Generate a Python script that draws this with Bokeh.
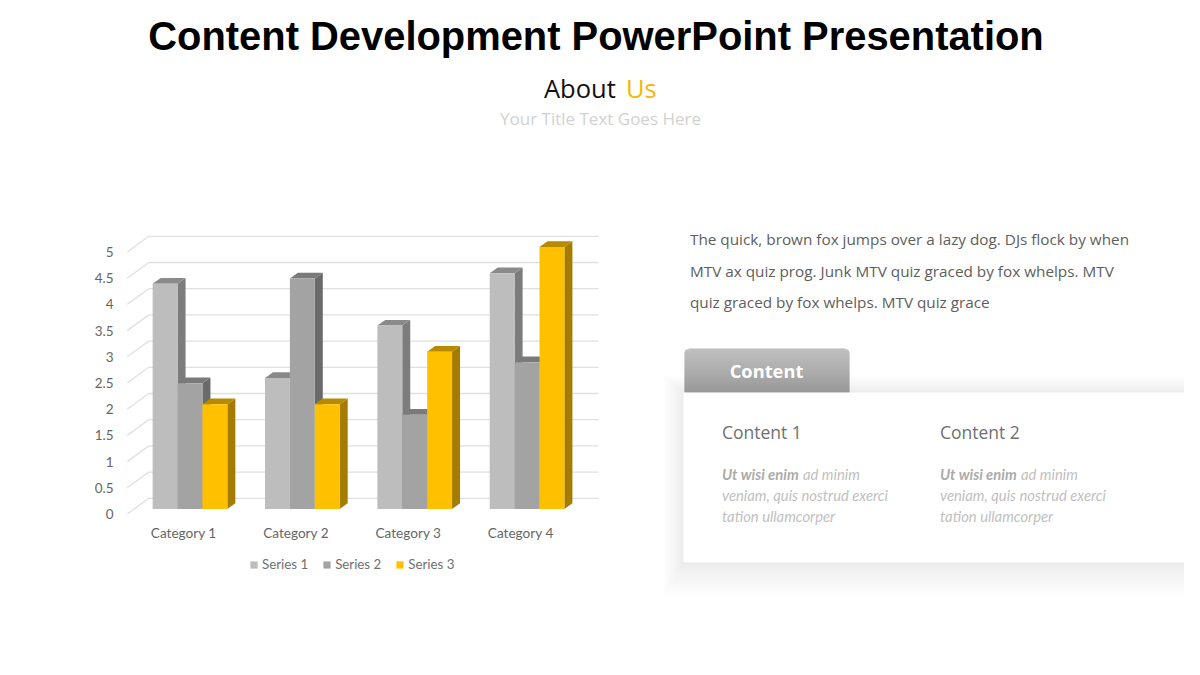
from bokeh.plotting import figure
from bokeh.models import Range1d, LinearAxis, FixedTicker, Legend, LegendItem
from bokeh.core.properties import value
from bokeh.embed import file_html
from bokeh.resources import INLINE

categories = ["Category 1", "Category 2", "Category 3", "Category 4"]
series_names = ["Series 1", "Series 2", "Series 3"]
series_1 = [4.3, 2.5, 3.5, 4.5]
series_2 = [2.4, 4.4, 1.8, 2.8]
series_3 = [2.0, 2.0, 3.0, 5.0]
ticks = [0, 0.5, 1, 1.5, 2, 2.5, 3, 3.5, 4, 4.5, 5]
tick_labels = ["0", "0.5", "1", "1.5", "2", "2.5", "3", "3.5", "4", "4.5", "5"]

front = ["#BDBDBD", "#A3A3A3", "#FFC000"]
side = ["#7C7C7C", "#6A6A6A", "#A67C00"]
top = ["#8A8A8A", "#7A7A7A", "#B88A00"]

W, H = 1184, 659
PX_X, PX_Y = 112.35, 52.4         # pixels per category / per value
X0, Y0 = 183.2, 513.5             # picture pixel of category 0 label / value 0 on the front wall
dx = lambda px: px / PX_X
dy = lambda px: px / PX_Y

p = figure(width=W, height=H, output_backend="svg", toolbar_location=None,
           x_range=Range1d((0 - X0) / PX_X, (W - X0) / PX_X),
           y_range=Range1d((Y0 - H) / PX_Y, Y0 / PX_Y),
           x_axis_location=None, y_axis_location=None,
           min_border=0, outline_line_color=None, background_fill_color="white")
p.grid.visible = False
p.extra_x_ranges["px"] = Range1d(0, W)
p.extra_y_ranges["px"] = Range1d(H, 0)
PX = dict(x_range_name="px", y_range_name="px")


def txt(x, y, s, size, color, font="Open Sans", style="normal", align="left"):
    p.text([x], [y], text=[s], text_font=value(font), text_font_size=f"{size}px",
           text_font_style=style, text_color=color, text_align=align,
           text_baseline="middle", **PX)


# ---- slide heading
txt(595.5, 35.5, "Content Development PowerPoint Presentation", 39.9, "#000000", "Liberation Sans", "bold", "center")
txt(543.5, 87.5, "About", 25.5, "#111111")
txt(625.5, 87.5, "Us", 25.5, "#F5B800")
txt(600, 118, "Your Title Text Goes Here", 17, "#D2D2D2", align="center")

# ---- body text
body = ["The quick, brown fox jumps over a lazy dog. DJs flock by when",
        "MTV ax quiz prog. Junk MTV quiz graced by fox whelps. MTV",
        "quiz graced by fox whelps. MTV quiz grace"]
for s, y in zip(body, [238.5, 270.5, 301.5]):
    txt(689.5, y, s, 15.3, "#5E5E5E")

# ---- card shadow, tab, card
for i in range(1, 21):
    e = (i / 20) ** 1.3
    p.quad(left=[683 - e * 22], right=[1230], top=[392 - e * 18], bottom=[562 + e * 36],
           fill_color="#000000", fill_alpha=0.004, line_color=None, **PX)
n = 44
for i in range(n):
    g = int(184 - (184 - 140) * i / (n - 1))
    inset = 4 - (16 - (4 - i) ** 2) ** 0.5 if i < 4 else 0
    p.quad(left=[684 + inset], right=[849 - inset], top=[348 + i], bottom=[349.2 + i],
           fill_color=f"#{g:02x}{g:02x}{g:02x}", line_color=None, **PX)
p.quad(left=[683], right=[1230], top=[392], bottom=[562], fill_color="#FFFFFF", line_color=None, **PX)
txt(766, 370, "Content", 18.3, "#FFFFFF", style="bold", align="center")
lines = ["veniam, quis nostrud exerci", "tation ullamcorper"]
for cx, title in zip([721.5, 939.5], ["Content 1", "Content 2"]):
    txt(cx, 431.5, title, 17.5, "#707070")
    txt(cx, 473.5, "Ut wisi enim", 14.8, "#ABABAB", "Lato", "bold italic")
    txt(cx + 81, 473.5, "ad minim", 14.8, "#BFBFBF", "Lato", "italic")
    txt(cx, 494.5, lines[0], 14.8, "#BFBFBF", "Lato", "italic")
    txt(cx, 515.5, lines[1], 14.8, "#BFBFBF", "Lato", "italic")

# ---- chart: back wall
WALL_DX, WALL_DY = dx(21.6), dy(15.7)
left_x = dx(126.7 - X0)
right_x = dx(598 - X0)
p.multi_line([[left_x + WALL_DX, right_x] for _ in ticks],
             [[t + WALL_DY, t + WALL_DY] for t in ticks], line_color="#E0E0E0", line_width=1.3)
p.multi_line([[left_x, left_x + WALL_DX] for _ in ticks],
             [[t, t + WALL_DY] for t in ticks], line_color="#E0E0E0", line_width=1.3)

# ---- chart: 3-D bars
BAR_W = dx(24.9)
DEPTH_X, DEPTH_Y = dx(8), dy(5.7)
BASE = dy(5)
CAT_SHIFT = dx(6.3)
renderers = []
for s, vals in enumerate([series_1, series_2, series_3]):
    for c, v in enumerate(vals):
        xl = c + CAT_SHIFT + (s - 1.5) * BAR_W
        xr = xl + BAR_W
        yt, yb = v + BASE, BASE
        p.patch([xr, xr + DEPTH_X, xr + DEPTH_X, xr],
                [yb, yb + DEPTH_Y, yt + DEPTH_Y, yt], fill_color=side[s], line_color=None)
        p.patch([xl, xl + DEPTH_X, xr + DEPTH_X, xr],
                [yt, yt + DEPTH_Y, yt + DEPTH_Y, yt], fill_color=top[s], line_color=None)
        r = p.vbar(x=[xl + BAR_W / 2], width=BAR_W, top=[yt], bottom=[yb], fill_color=front[s], line_color=None)
        if c == 0:
            renderers.append(r)

# ---- chart: axes drawn through Bokeh with fixed locations
yax = LinearAxis(ticker=FixedTicker(ticks=ticks),
                 major_label_overrides=dict(zip(ticks, tick_labels)),
                 axis_line_color=None, major_tick_line_color=None, minor_tick_line_color=None,
                 major_label_text_font="Lato", major_label_text_font_size="13.5px",
                 major_label_text_color="#666666", major_label_standoff=0, fixed_location=dx(119 - X0))
p.add_layout(yax, "left")
xax = LinearAxis(ticker=FixedTicker(ticks=list(range(len(categories)))),
                 major_label_overrides=dict(enumerate(categories)),
                 axis_line_color=None, major_tick_line_color=None, minor_tick_line_color=None,
                 major_label_text_font="Lato", major_label_text_font_size="13.6px",
                 major_label_text_color="#666666", major_label_standoff=0, fixed_location=dy(513.5 - 518))
p.add_layout(xax, "below")

legend = Legend(items=[LegendItem(label=n_, renderers=[r]) for n_, r in zip(series_names, renderers)],
                orientation="horizontal", location=(249, H - 572), border_line_color=None,
                background_fill_alpha=0, glyph_width=9, glyph_height=9, label_standoff=4,
                spacing=14, padding=4, margin=0, label_text_font="Lato", label_text_font_size="13.3px",
                label_text_color="#707070", label_height=14)
p.add_layout(legend)

open("out.html", "w").write(file_html(p, INLINE))
